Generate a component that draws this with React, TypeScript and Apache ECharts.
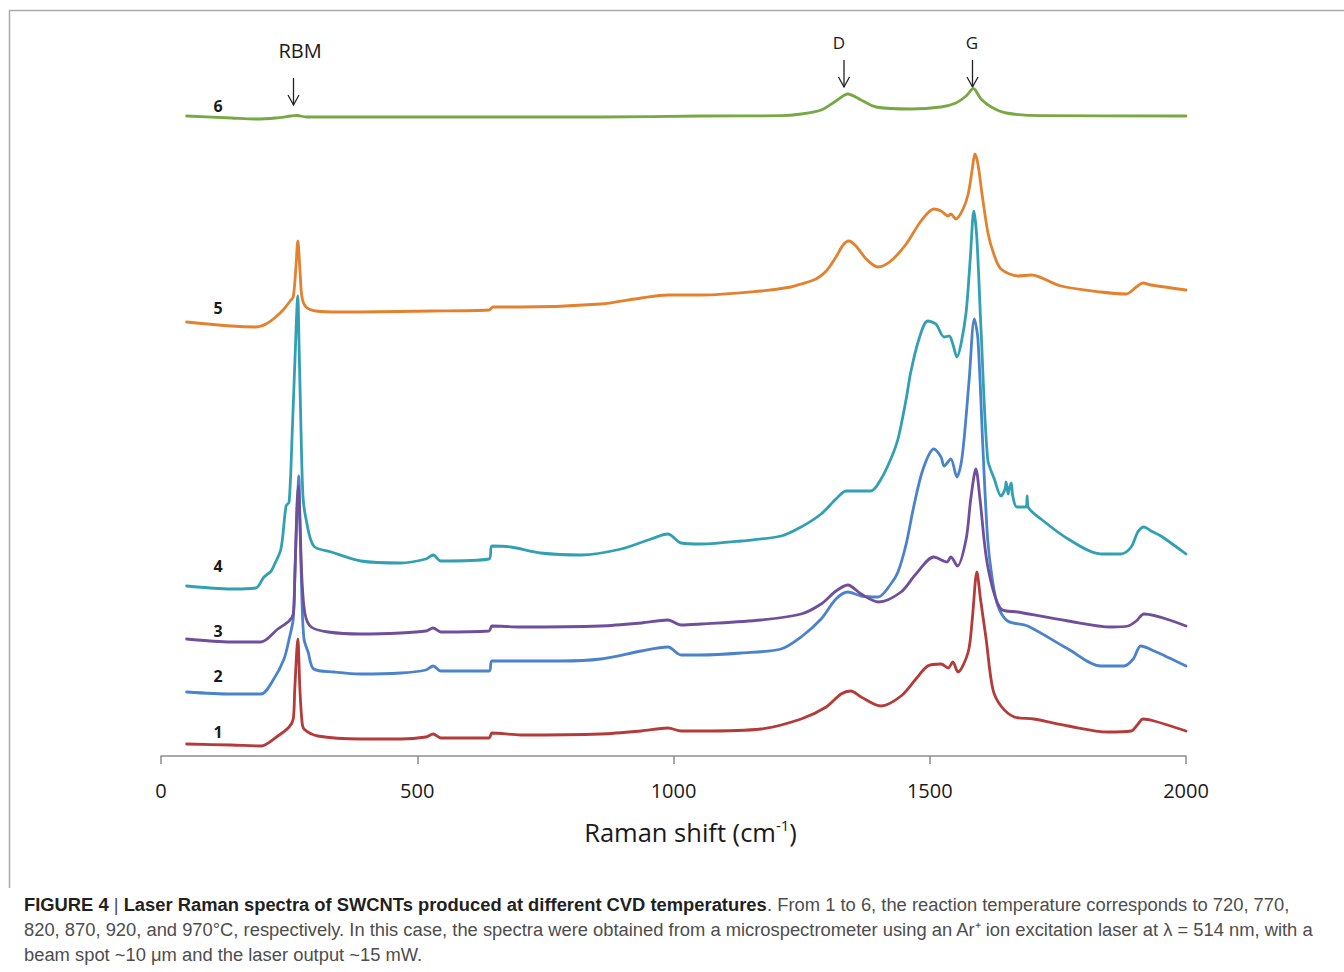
import React, { useEffect, useRef } from "react";
import * as echarts from "echarts";

// ---- Data (Raman shift in cm-1, intensity in arbitrary offset units) ----
const xTicks = [0, 500, 1000, 1500, 2000];
const seriesNames = ["1", "2", "3", "4", "5", "6"];
const seriesColors = ["#b43b3a", "#4a82cc", "#6f4f9c", "#32a0b3", "#e3812f", "#78a844"];

const shift1 = [50,137,195,228,250,258,261,267,271,275,279,306,390,468,517,531,546,640,646,702,858,937,989,1015,1054,1171,1249,1298,1327,1346,1366,1405,1444,1473,1496,1522,1536,1545,1555,1575,1583,1592,1599,1610,1623,1639,1665,1703,1770,1848,1893,1905,1916,1938,2000];
const intensity1 = [12,11,10,20,29,37,67,117,67,35,27,20,17,17,19,22,18,18,23,21,22,25,28,25,25,27,37,49,62,65,59,50,60,77,90,92,88,94,84,104,137,184,157,117,67,50,39,37,30,24,25,31,37,35,25];

const shift2 = [50,137,195,220,240,250,258,261,265,269,271,275,279,287,298,338,390,468,517,531,546,640,646,702,780,858,937,989,1015,1054,1132,1210,1249,1288,1317,1340,1366,1399,1424,1438,1454,1469,1487,1508,1522,1528,1541,1553,1561,1567,1577,1587,1594,1604,1613,1622,1633,1652,1691,1770,1834,1879,1897,1912,1938,2000];
const intensity2 = [64,62,62,77,97,117,137,177,237,280,237,157,117,104,87,84,82,83,86,90,85,85,95,95,95,97,105,109,101,101,103,107,119,137,157,164,160,159,172,184,212,250,287,307,299,290,297,279,292,317,377,437,417,305,217,177,150,135,130,107,90,90,97,110,105,90];

const shift3 = [50,137,195,228,250,258,261,265,268,271,275,281,293,326,390,468,517,531,546,640,646,702,858,937,989,1015,1054,1171,1249,1288,1317,1340,1366,1400,1444,1473,1508,1534,1541,1554,1571,1580,1590,1598,1613,1639,1672,1770,1854,1887,1903,1918,2000];
const intensity3 = [117,114,114,127,135,142,177,247,270,237,177,142,129,124,122,123,125,128,124,125,130,129,130,133,136,131,132,136,142,152,165,171,162,154,164,182,199,194,199,190,217,257,287,257,190,147,144,135,129,130,135,142,130];

const shift4 = [50,137,185,201,215,220,234,244,250,256,261,267,269,273,277,283,298,332,390,468,517,531,546,640,646,683,741,820,898,956,989,1015,1054,1132,1210,1249,1288,1317,1337,1385,1405,1424,1438,1454,1463,1479,1496,1512,1528,1538,1545,1553,1561,1571,1579,1586,1592,1600,1613,1626,1639,1647,1649,1653,1655,1659,1662,1670,1688,1690,1692,1717,1770,1834,1873,1893,1906,1918,1932,1951,2000];
const intensity4 = [170,167,168,179,185,190,207,250,254,323,391,460,420,330,260,237,210,204,195,193,197,201,195,197,210,209,203,201,207,217,222,213,212,215,220,229,242,257,265,265,277,297,317,357,384,417,435,432,419,420,412,399,412,444,497,545,517,427,297,277,260,267,274,262,267,273,260,249,249,260,249,237,217,202,202,209,224,229,225,220,202];

const shift5 = [50,137,185,205,224,240,252,258,263,267,271,275,283,302,351,527,640,648,702,858,937,989,1054,1171,1229,1249,1278,1298,1317,1331,1342,1356,1376,1399,1424,1454,1483,1508,1522,1536,1541,1551,1565,1575,1583,1588,1594,1602,1614,1625,1639,1672,1698,1756,1834,1883,1903,1916,1932,2000];
const intensity5 = [434,430,429,432,439,447,455,459,487,515,487,459,449,445,444,445,446,449,449,452,458,461,461,465,469,472,477,485,499,511,515,510,497,489,495,512,535,547,545,540,542,537,547,562,587,602,592,562,522,502,487,480,481,470,464,462,469,473,471,466];

const shift6 = [50,137,185,224,254,265,283,468,858,1054,1210,1249,1288,1317,1340,1366,1395,1463,1522,1551,1571,1585,1600,1620,1649,1717,2000];
const intensity6 = [640,638,637,638,640,640.5,639,639,639,640,640.3,642,646,655,662,656,649,647,649,653,660,667.5,657,649,643,640.3,640];

const shifts = [shift1, shift2, shift3, shift4, shift5, shift6];
const intensities = [intensity1, intensity2, intensity3, intensity4, intensity5, intensity6];
// drawing order (later on top)
const drawOrder = [5, 4, 3, 1, 2, 0];

const peakNames = ["RBM", "D", "G"];
const captionBold = "Laser Raman spectra of SWCNTs produced at different CVD temperatures";
const captionLine1 = ". From 1 to 6, the reaction temperature corresponds to 720, 770,";
const captionLine2 = "820, 870, 920, and 970°C, respectively. In this case, the spectra were obtained from a microspectrometer using an Ar⁺ ion excitation laser at λ = 514 nm, with a";
const captionLine3 = "beam spot ~10 μm and the laser output ~15 mW.";

// ---- Layout ----
const LABEL_POS: [number, number][] = [[218, 732], [218, 676], [218, 631], [218, 566], [218, 308], [218, 106]];

function arrow(x: number, y1: number, y2: number) {
  return [
    { type: "line", shape: { x1: x, y1, x2: x, y2 }, style: { stroke: "#222", lineWidth: 1.3 } },
    {
      type: "polyline",
      shape: { points: [[x - 5.5, y2 - 10], [x, y2], [x + 5.5, y2 - 10]] },
      style: { stroke: "#222", lineWidth: 1.3, fill: null },
    },
  ];
}

export default function App() {
  const ref = useRef<HTMLDivElement>(null);
  useEffect(() => {
    const chart = echarts.init(ref.current!, null, { renderer: "svg" });
    const series = drawOrder.map((i) => ({
      name: seriesNames[i],
      type: "line",
      showSymbol: false,
      smooth: 0.3,
      data: shifts[i].map((x, k) => [x, intensities[i][k]]),
      lineStyle: { color: seriesColors[i], width: 2.8, cap: "round", join: "round" },
      itemStyle: { color: seriesColors[i] },
      silent: true,
    }));
    const graphic: any[] = [
      {
        type: "polyline",
        shape: { points: [[9.5, 888], [9.5, 10.5], [1344, 10.5]] },
        style: { stroke: "#aaaaaa", lineWidth: 1.5, fill: null },
      },
      ...LABEL_POS.map((p, i) => ({
        type: "text",
        x: p[0],
        y: p[1],
        style: {
          text: seriesNames[i],
          fontFamily: "Open Sans",
          fontWeight: "bold",
          fontSize: 16,
          fill: "#1a1a1a",
          align: "center",
          verticalAlign: "middle",
        },
      })),
      { type: "text", x: 300, y: 50, style: { text: peakNames[0], fontFamily: "Open Sans", fontSize: 20, fill: "#1a1a1a", align: "center", verticalAlign: "middle" } },
      { type: "text", x: 839, y: 42, style: { text: peakNames[1], fontFamily: "Open Sans", fontSize: 17, fill: "#1a1a1a", align: "center", verticalAlign: "middle" } },
      { type: "text", x: 972, y: 42, style: { text: peakNames[2], fontFamily: "Open Sans", fontSize: 17, fill: "#1a1a1a", align: "center", verticalAlign: "middle" } },
      ...arrow(293.5, 78, 105),
      ...arrow(844, 60, 87),
      ...arrow(972.5, 60, 87),
      {
        type: "text",
        x: 24,
        y: 893,
        scaleX: 1.02,
        style: {
          text:
            "{b|FIGURE 4 }{n||}{b| " + captionBold + "}{n|" + captionLine1 + "}\n{n|" + captionLine2 + "}\n{n|" + captionLine3 + "}",
          verticalAlign: "top",
          align: "left",
          rich: {
            b: { fontFamily: "Liberation Sans", fontWeight: "bold", fontSize: 18, fill: "#231f20", lineHeight: 25 },
            n: { fontFamily: "Liberation Sans", fontSize: 18, fill: "#4d4d4d", lineHeight: 25 },
          },
        },
      },
    ];
    chart.setOption({
      animation: false,
      backgroundColor: "#ffffff",
      grid: { left: 161, right: 158, top: 56, bottom: 216, containLabel: false },
      xAxis: {
        type: "value",
        min: 0,
        max: 2000,
        interval: 500,
        splitLine: { show: false },
        axisLine: { show: true, lineStyle: { color: "#8c8c8c", width: 1.5 } },
        axisTick: { show: true, length: 8, lineStyle: { color: "#8c8c8c", width: 1.5 } },
        axisLabel: {
          fontFamily: "Open Sans",
          fontSize: 20,
          color: "#1a1a1a",
          margin: 24,
          formatter: (v: number) => (xTicks.includes(v) ? String(v) : ""),
        },
        name: "{a|Raman shift (cm}{s|-1}{a|)}",
        nameLocation: "middle",
        nameGap: 61,
        nameTextStyle: {
          padding: [0, 0, 0, 34],
          rich: {
            a: { fontFamily: "Open Sans", fontSize: 25.5, color: "#1a1a1a", lineHeight: 30 },
            s: { fontFamily: "Open Sans", fontSize: 15, color: "#1a1a1a", lineHeight: 14, verticalAlign: "top" },
          },
        },
      },
      yAxis: { type: "value", min: 0, max: 700, show: false, splitLine: { show: false } },
      series,
      graphic,
    });
    return () => chart.dispose();
  }, []);
  return (
    <div
      ref={ref}
      style={{ position: "fixed", left: 0, top: 0, width: 1344, height: 972, background: "#fff" }}
    />
  );
}
